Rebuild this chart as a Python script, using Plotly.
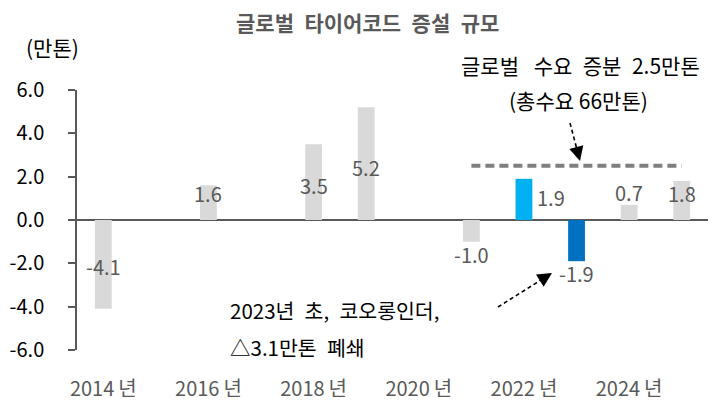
import plotly.graph_objects as go

# ---- data ----
years = [2014, 2016, 2018, 2019, 2021, 2022, 2023, 2024, 2025]
values = [-4.1, 1.6, 3.5, 5.2, -1.0, 1.9, -1.9, 0.7, 1.8]
value_labels = ["-4.1", "1.6", "3.5", "5.2", "-1.0", "1.9", "-1.9", "0.7", "1.8"]
bar_colors = ["#d9d9d9", "#d9d9d9", "#d9d9d9", "#d9d9d9", "#d9d9d9",
              "#00b0f0", "#0070c0", "#d9d9d9", "#d9d9d9"]
demand_years = [2021, 2025]
demand_increment = [2.5, 2.5]
x_tick_vals = [2014, 2016, 2018, 2020, 2022, 2024]
x_tick_text = ["2014\u2009년", "2016\u2009년", "2018\u2009년", "2020\u2009년", "2022\u2009년", "2024\u2009년"]
y_tick_vals = [-6, -4, -2, 0, 2, 4, 6]
y_tick_text = ["-6.0", "-4.0", "-2.0", "0.0", "2.0", "4.0", "6.0"]

# label offsets (style): pixels relative to bar end
label_yshift = [42, -8, -41, -60, -13, -19, -12, 12, -12]
label_xshift = [0, 0, 0, 0, 0, 27, 0, 0, 0]

FONT = "Noto Sans CJK KR"
SP = "\u2002"
W, H = 720, 401
ML, MT = 77, 90
MR = W - 708
MB = H - 350
PW, PH = W - ML - MR, H - MT - MB


def px(x):
    return (x - ML) / PW


def py(y):
    return (H - MB - y) / PH


fig = go.Figure()
fig.add_trace(go.Bar(x=years, y=values, marker=dict(color=bar_colors, line=dict(width=0)),
                     width=0.32, hoverinfo="skip"))
fig.add_trace(go.Scatter(x=demand_years, y=demand_increment, mode="lines",
                         line=dict(color="#7f7f7f", width=4, dash="9px,5px"),
                         hoverinfo="skip"))

annotations = []
for yr, v, t, ys, xs in zip(years, values, value_labels, label_yshift, label_xshift):
    annotations.append(dict(x=yr, y=v, xref="x", yref="y", text=t, showarrow=False,
                            yshift=ys, xshift=xs, xanchor="center", yanchor="middle",
                            font=dict(family=FONT, size=20, color="#595959")))


def txt(x, y, text, size=21, color="#000000", xanchor="center"):
    annotations.append(dict(x=px(x), y=py(y), xref="paper", yref="paper", text=text,
                            showarrow=False, xanchor=xanchor, yanchor="middle",
                            font=dict(family=FONT, size=size, color=color)))


txt(367, 22, "<b>글로벌" + SP + "타이어코드" + SP + "증설" + SP + "규모</b>", size=21, color="#595959")
txt(52, 47, "(만톤)")
txt(580, 65, "글로벌" + SP + "\u2009" + "수요" + SP + "증분" + SP + "2.5만톤")
txt(578, 100, "(총수요 66만톤)")
txt(228, 310, "2023년" + SP + "초," + SP + "코오롱인더,", size=20.5, xanchor="left")
txt(228, 347, "△3.1만톤" + SP + "폐쇄", size=20.5, xanchor="left")

shapes = []
for (tx, ty), (hx, hy) in [((570, 123), (580, 161)), ((498, 307), (552, 273))]:
    dx, dy = hx - tx, hy - ty
    L = (dx * dx + dy * dy) ** 0.5
    ux, uy = dx / L, dy / L
    head = 14
    bx, by = hx - ux * head, hy - uy * head
    shapes.append(dict(type="line", xref="paper", yref="paper",
                       x0=px(tx), y0=py(ty), x1=px(bx + ux * 3), y1=py(by + uy * 3),
                       line=dict(color="#000000", width=1.6, dash="4px,3px")))
    annotations.append(dict(x=px(hx), y=py(hy), xref="paper", yref="paper", text="",
                            showarrow=True, ax=-ux * (head + 2), ay=-uy * (head + 2),
                            arrowhead=2, arrowsize=1.8, arrowwidth=1.6,
                            arrowcolor="#000000", standoff=0))

fig.update_layout(
    width=W, height=H, margin=dict(l=ML, r=MR, t=MT, b=MB, autoexpand=False),
    paper_bgcolor="white", plot_bgcolor="white", showlegend=False,
    font=dict(family=FONT),
    annotations=annotations, shapes=shapes,
    xaxis=dict(range=[2013.5, 2025.5], tickvals=x_tick_vals, ticktext=x_tick_text,
               showgrid=False, zeroline=False, showline=False, ticks="", automargin=False,
               tickfont=dict(family=FONT, size=20, color="#595959"),
               ticklabelstandoff=25),
    yaxis=dict(range=[-6, 6], tickvals=y_tick_vals, ticktext=y_tick_text,
               showgrid=False, zeroline=True, zerolinecolor="#595959", zerolinewidth=1.5,
               showline=True, linecolor="#595959", linewidth=1.5, automargin=False,
               ticks="outside", ticklen=7, tickcolor="#595959", tickwidth=1.5,
               tickfont=dict(family=FONT, size=20, color="#000000"),
               ticklabelstandoff=20),
)

fig.write_html("out.html", config={"displayModeBar": False},
               post_script="document.body.style.margin='0px';")
